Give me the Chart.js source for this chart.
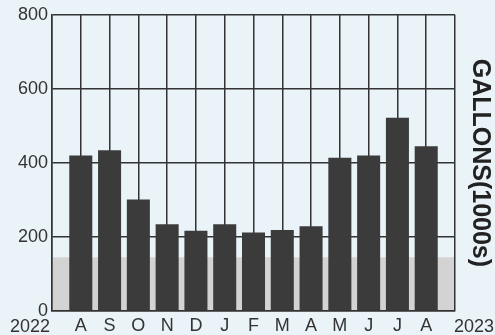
<!DOCTYPE html>
<html>
<head>
<meta charset="utf-8">
<script src="https://cdn.jsdelivr.net/npm/chart.js@4/dist/chart.umd.min.js"></script>
<style>
html,body{margin:0;padding:0;background:#e9f3f8;}
canvas{display:block;}
</style>
</head>
<body>
<canvas id="c" width="495" height="335"></canvas>
<script>
const months = ['A','S','O','N','D','J','F','M','A','M','J','J','A'];
const gallons = [420, 434, 301, 234, 217, 234, 212, 219, 229, 414, 420, 522, 445];
const yTicks = [0, 200, 400, 600, 800];
const bandValue = 145;
const startYear = '2022';
const endYear = '2023';
const axisTitle = 'GALLONS(1000s)';

const labels = [''].concat(months).concat(['']);
const data = [null].concat(gallons).concat([null]);

const bandPlugin = {
  id: 'band',
  beforeDatasetsDraw(chart) {
    const {ctx, chartArea} = chart;
    const y = chart.scales.y;
    const top = y.getPixelForValue(bandValue);
    const bottom = y.getPixelForValue(0);
    ctx.save();
    ctx.fillStyle = '#d3d3d3';
    ctx.fillRect(chartArea.left + 1, top, chartArea.right - chartArea.left - 2, bottom - top - 1);
    ctx.restore();
  },
  afterDraw(chart) {
    const {ctx, chartArea} = chart;
    ctx.save();
    ctx.font = '18px "Liberation Sans", Arial, sans-serif';
    ctx.fillStyle = '#333';
    ctx.textBaseline = 'alphabetic';
    ctx.textAlign = 'right';
    ctx.fillText(startYear, chartArea.left - 2, chartArea.bottom + 21);
    ctx.textAlign = 'left';
    ctx.fillText(endYear, chartArea.right - 1, chartArea.bottom + 21);
    ctx.restore();
  }
};

new Chart(document.getElementById('c'), {
  type: 'bar',
  data: {
    labels: labels,
    datasets: [{
      data: data,
      backgroundColor: '#3b3b3b',
      borderWidth: 0,
      barPercentage: 0.8,
      categoryPercentage: 1.0,
      yAxisID: 'y'
    }]
  },
  options: {
    responsive: false,
    animation: false,
    events: [],
    layout: { padding: { top: 14, left: 0, right: 0, bottom: 0 } },
    plugins: { legend: { display: false }, tooltip: { enabled: false } },
    scales: {
      x: {
        offset: false,
        grid: { display: true, offset: false, color: '#333', lineWidth: 1.5, drawTicks: false },
        border: { display: true, color: '#333', width: 1.5 },
        ticks: {
          color: '#333',
          font: { family: '"Liberation Sans", Arial, sans-serif', size: 18 },
          padding: 4,
          maxRotation: 0,
          autoSkip: false
        },
        afterFit(s) { s.height = 24; }
      },
      y: {
        position: 'left',
        min: 0, max: 800,
        afterBuildTicks(s) { s.ticks = yTicks.map(v => ({ value: v })); },
        grid: { display: true, color: '#333', lineWidth: 1.5, drawTicks: false },
        border: { display: true, color: '#333', width: 1.5 },
        ticks: {
          color: '#333',
          font: { family: '"Liberation Sans", Arial, sans-serif', size: 18 },
          padding: 4
        },
        afterFit(s) { s.width = 52; }
      },
      y2: {
        position: 'right',
        min: 0, max: 800,
        grid: { display: false, drawTicks: false },
        border: { display: false },
        ticks: { display: false },
        title: {
          display: true,
          text: axisTitle,
          color: '#222',
          font: { family: '"Liberation Sans", Arial, sans-serif', size: 25, weight: 'bold' },
          padding: { top: 0, bottom: 0 }
        },
        afterFit(s) { s.width = 40; }
      }
    }
  },
  plugins: [bandPlugin]
});
</script>
</body>
</html>
